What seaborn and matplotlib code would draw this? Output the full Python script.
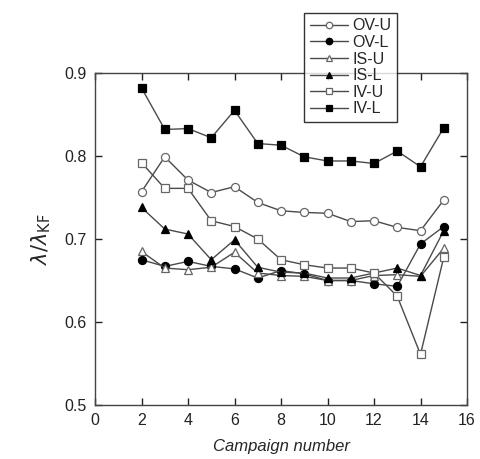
import matplotlib
matplotlib.use("Agg")
import matplotlib.pyplot as plt
import seaborn as sns
import pandas as pd

campaigns = [2, 3, 4, 5, 6, 7, 8, 9, 10, 11, 12, 13, 14, 15]
ov_u = [0.757, 0.799, 0.771, 0.756, 0.763, 0.744, 0.734, 0.732, 0.731, 0.721, 0.722, 0.714, 0.710, 0.747]
ov_l = [0.675, 0.667, 0.673, 0.667, 0.664, 0.653, 0.662, 0.658, 0.650, 0.650, 0.646, 0.643, 0.694, 0.715]
is_u = [0.685, 0.665, 0.663, 0.666, 0.684, 0.659, 0.656, 0.655, 0.650, 0.650, 0.656, 0.657, 0.655, 0.689]
is_l = [0.738, 0.712, 0.706, 0.675, 0.699, 0.666, 0.660, 0.659, 0.653, 0.653, 0.659, 0.665, 0.656, 0.710]
iv_u = [0.792, 0.761, 0.761, 0.722, 0.715, 0.700, 0.675, 0.669, 0.665, 0.665, 0.659, 0.631, 0.561, 0.678]
iv_l = [0.882, 0.832, 0.833, 0.822, 0.855, 0.815, 0.813, 0.799, 0.794, 0.794, 0.791, 0.806, 0.787, 0.834]
series_names = ["OV-U", "OV-L", "IS-U", "IS-L", "IV-U", "IV-L"]
x_ticks = [0, 2, 4, 6, 8, 10, 12, 14, 16]
y_ticks = [0.5, 0.6, 0.7, 0.8, 0.9]

sns.set_theme(style="ticks")
plt.rcParams['font.family'] = ['Liberation Sans', 'DejaVu Sans']

styles = {
    "OV-U": ("o", "white"),
    "OV-L": ("o", "black"),
    "IS-U": ("^", "white"),
    "IS-L": ("^", "black"),
    "IV-U": ("s", "white"),
    "IV-L": ("s", "black"),
}
values = [ov_u, ov_l, is_u, is_l, iv_u, iv_l]

fig = plt.figure(figsize=(4.81, 4.59), dpi=100)
ax = fig.add_axes([95/481, 1-405/459, (467-95)/481, (405-73)/459])

for name, vals in zip(series_names, values):
    mk, fc = styles[name]
    df = pd.DataFrame({"x": campaigns, "y": vals})
    edge = "#666666" if fc == "white" else "black"
    sns.lineplot(data=df, x="x", y="y", ax=ax, color="#4a4a4a", linewidth=1.0,
                 marker=mk, markersize=5.8,
                 markerfacecolor=fc, markeredgecolor=edge, markeredgewidth=0.9,
                 label=name, zorder=3)

ax.set_xlim(0, 16)
ax.set_ylim(0.5, 0.9)
ax.set_xticks(x_ticks)
ax.set_yticks(y_ticks)
ax.set_yticklabels([f"{v:.1f}" for v in y_ticks])
ax.tick_params(direction="in", top=True, right=True, length=5, width=1,
               labelsize=11.5, colors="#222222", pad=6)
for s in ax.spines.values():
    s.set_color("#444444")
    s.set_linewidth(1.0)

ax.set_xlabel("Campaign number", fontsize=12, style="italic", labelpad=8)
ax.set_ylabel(r"$\lambda/\lambda_{\mathrm{KF}}$", fontsize=15, labelpad=8)

ax.get_legend().remove()
handles, labels = ax.get_legend_handles_labels()
leg = fig.legend(handles, labels, loc="upper left", bbox_to_anchor=(0.632, 0.972),
                 fontsize=11.5, frameon=True, fancybox=False, numpoints=1,
                 markerscale=0.8, handlelength=2.4, handletextpad=0.3,
                 labelspacing=0.1, borderpad=0.35, borderaxespad=0)
leg.get_frame().set_edgecolor("black")
leg.get_frame().set_linewidth(1.0)
leg.get_frame().set_facecolor("white")
leg.set_zorder(10)

fig.savefig("out.png", dpi=100)
